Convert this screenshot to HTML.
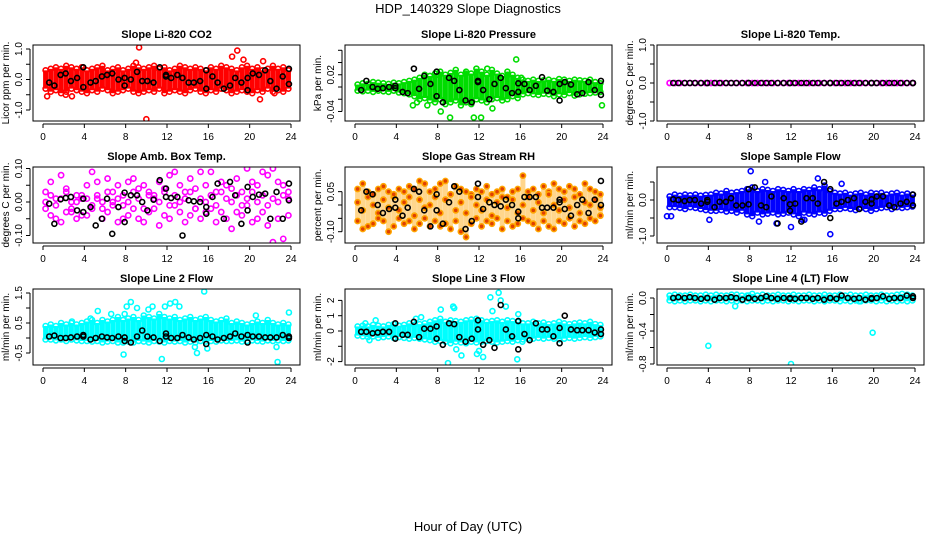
<!DOCTYPE html>
<html><head><meta charset="utf-8"><style>
html,body{margin:0;padding:0;background:#fff;}
svg{display:block;font-family:"Liberation Sans",sans-serif;}
</style></head><body>
<svg id="fig" width="936" height="540" viewBox="0 0 936 540" xmlns="http://www.w3.org/2000/svg">
<text x="468" y="13" text-anchor="middle" font-size="13">HDP_140329  Slope Diagnostics</text>
<text x="468" y="531" text-anchor="middle" font-size="13">Hour of Day (UTC)</text>
</svg>
<script>
const slotHours=[0.25,0.75,1.25,1.75,2.25,2.75,3.25,3.75,4.25,4.75,5.25,5.75,6.25,6.75,7.25,7.75,8.25,8.75,9.25,9.75,10.25,10.75,11.25,11.75,12.25,12.75,13.25,13.75,14.25,14.75,15.25,15.75,16.25,16.75,17.25,17.75,18.25,18.75,19.25,19.75,20.25,20.75,21.25,21.75,22.25,22.75,23.25,23.75];
const blackHours=[0.6,1.1,1.7,2.2,2.7,3.3,3.9,3.9,4.6,5.1,5.7,6.2,6.7,7.3,7.9,7.9,8.5,9.1,9.6,10.1,10.7,11.3,11.9,11.9,12.4,13,13.5,14.1,14.6,15.2,15.8,15.8,16.4,16.9,17.5,18.1,18.6,19.2,19.8,19.8,20.3,20.9,21.5,22,22.6,23.2,23.8,23.8];
const xTicks=[0,4,8,12,16,20,24];

const co2Hi=[0.3,0.35,0.4,0.35,0.45,0.4,0.35,0.4,0.3,0.35,0.4,0.45,0.3,0.35,0.4,0.3,0.35,0.45,0.4,0.35,0.4,0.45,0.35,0.4,0.3,0.35,0.45,0.4,0.35,0.4,0.35,0.3,0.4,0.35,0.45,0.4,0.35,0.3,0.4,0.45,0.35,0.4,0.3,0.35,0.45,0.35,0.4,0.3];
const co2Lo=[-0.3,-0.4,-0.35,-0.45,-0.4,-0.3,-0.35,-0.4,-0.45,-0.35,-0.4,-0.3,-0.35,-0.45,-0.4,-0.35,-0.3,-0.4,-0.45,-0.4,-0.35,-0.4,-0.3,-0.45,-0.4,-0.35,-0.4,-0.45,-0.35,-0.3,-0.4,-0.45,-0.35,-0.4,-0.3,-0.35,-0.45,-0.4,-0.35,-0.4,-0.45,-0.35,-0.4,-0.3,-0.4,-0.35,-0.4,-0.3];
const co2OutX=[9.3,10,18.8,18.3,19.4,21.3,0.4,2.8,21,9,2.2,22.4];
const co2OutY=[1.05,-1.3,0.95,0.75,0.65,0.6,-0.55,-0.55,-0.65,0.55,-0.5,-0.45];
const co2Black=[-0.1,-0.2,0.15,0.2,-0.05,0.05,0.4,-0.25,-0.1,-0.05,0.1,0.15,0.2,0.0,-0.2,0.05,0.0,0.25,-0.05,-0.05,-0.1,0.4,0.15,0.1,0.05,0.15,0.05,-0.1,-0.1,-0.05,0.3,-0.3,0.1,-0.1,-0.3,-0.2,0.05,-0.1,0.05,-0.35,0.2,0.15,0.3,-0.05,-0.3,0.1,0.35,-0.15];

const presHi=[0.004,0.006,0.005,0.008,0.007,0.006,0.005,0.007,0.006,0.008,0.01,0.012,0.015,0.02,0.018,0.022,0.025,0.02,0.023,0.028,0.02,0.025,0.022,0.03,0.025,0.02,0.028,0.022,0.018,0.025,0.02,0.015,0.012,0.01,0.012,0.01,0.011,0.012,0.01,0.013,0.012,0.01,0.012,0.011,0.01,0.012,0.008,0.006];
const presLo=[-0.006,-0.007,-0.006,-0.008,-0.006,-0.007,-0.008,-0.006,-0.009,-0.01,-0.012,-0.015,-0.02,-0.018,-0.022,-0.025,-0.02,-0.028,-0.025,-0.022,-0.03,-0.025,-0.028,-0.02,-0.022,-0.025,-0.02,-0.018,-0.022,-0.02,-0.015,-0.018,-0.012,-0.01,-0.012,-0.013,-0.011,-0.012,-0.015,-0.012,-0.013,-0.01,-0.014,-0.012,-0.011,-0.01,-0.009,-0.008];
const presOutX=[5.6,8.1,8.3,9.2,11.5,12.2,12.8,14.8,15.6,6,7,16.1,23.9,10.7,13.3];
const presOutY=[-0.03,0.02,-0.04,-0.05,-0.05,-0.05,0.03,0.02,0.045,-0.025,-0.03,0.015,-0.03,0.022,-0.035];
const presBlack=[-0.005,0.01,0.0,-0.003,-0.002,0.0,-0.002,0.002,-0.008,-0.01,0.03,-0.003,0.018,0.005,-0.015,0.025,-0.025,0.015,0.01,-0.005,-0.022,-0.025,0.01,0.008,-0.005,-0.02,0.005,0.015,-0.002,-0.01,-0.008,0.006,0.005,-0.005,0.002,0.016,-0.006,-0.008,-0.022,0.005,0.008,0.004,-0.012,-0.01,0.008,-0.005,0.01,-0.013];

const tempVals=[0,0,0,0,0,0,0,0,0,0,0,0,0,0,0,0,0,0,0,0,0,0,0,0,0,0,0,0,0,0,0,0,0,0,0,0,0,0,0,0,0,0,0,0,0,0,0,0];
const tempBlack=[0,0,0,0,0,0,0,0,0,0,0,0,0,0,0,0,0,0,0,0,0,0,0,0,0,0,0,0,0,0,0,0,0,0,0,0,0,0,0,0,0,0,0,0,0,0,0,0];

const boxA=[0.03,0.06,-0.05,0.08,0.04,-0.03,0.02,-0.04,0.05,0.09,0.06,-0.02,0.07,0.03,0.05,-0.05,0.06,0.07,0.04,0.05,0.03,0.02,0.06,0.04,0.08,0.09,0.05,0.03,0.07,0.04,0.09,0.05,0.09,0.03,0.06,0.05,0.04,0.07,0.03,0.1,0.06,0.05,0.09,0.08,0.1,0.06,0.05,0.03];
const boxB=[-0.02,-0.04,0.01,-0.06,-0.03,0.0,-0.05,0.01,-0.04,-0.02,0.01,-0.05,-0.03,0.0,-0.06,-0.01,-0.04,-0.02,-0.05,-0.06,-0.03,-0.02,-0.07,-0.04,-0.05,-0.01,-0.03,-0.06,-0.04,-0.02,-0.05,-0.03,-0.02,-0.06,-0.03,-0.05,-0.08,-0.03,-0.04,-0.01,-0.06,-0.05,-0.03,-0.07,-0.12,-0.05,-0.11,-0.04];
const boxC=[0.0,0.02,-0.01,0.01,0.03,-0.02,0.0,0.02,0.01,-0.01,0.02,0.0,0.03,-0.01,0.01,0.02,0.0,0.03,0.01,-0.02,0.02,0.01,0.0,0.03,-0.01,0.02,0.0,0.01,0.03,-0.02,0.01,0.0,0.02,-0.01,0.03,0.01,0.0,0.02,-0.01,0.01,0.03,0.0,0.02,-0.01,0.01,0.0,0.02,0.01];
const boxBlack=[-0.005,-0.065,0.008,0.012,0.015,-0.025,0.01,-0.03,-0.015,-0.07,-0.05,0.01,-0.095,-0.015,-0.06,0.028,0.02,0.02,0.0,-0.025,0.007,0.065,0.04,0.015,0.012,0.015,-0.1,0.005,0.002,0.0,-0.015,-0.035,0.015,0.055,-0.05,0.06,0.02,-0.065,0.045,-0.025,0.015,0.022,0.025,-0.05,0.03,-0.05,0.055,0.005];

const rhA=[0.06,0.08,0.05,0.04,0.06,0.07,0.05,0.03,0.06,0.05,0.07,0.06,0.09,0.08,0.05,0.06,0.08,0.09,0.04,0.07,0.06,0.05,0.04,0.06,0.05,0.07,0.04,0.05,0.06,0.03,0.05,0.06,0.11,0.05,0.06,0.04,0.07,0.05,0.08,0.06,0.05,0.07,0.06,0.04,0.08,0.06,0.05,0.04];
const rhB=[-0.06,-0.09,-0.08,-0.07,-0.05,-0.06,-0.1,-0.08,-0.05,-0.07,-0.06,-0.09,-0.07,-0.05,-0.08,-0.06,-0.08,-0.07,-0.09,-0.06,-0.1,-0.12,-0.07,-0.05,-0.08,-0.06,-0.07,-0.05,-0.09,-0.06,-0.08,-0.07,-0.05,-0.06,-0.07,-0.09,-0.06,-0.08,-0.09,-0.06,-0.07,-0.05,-0.08,-0.06,-0.07,-0.05,-0.06,-0.04];
const rhC=[0.01,-0.02,0.03,0.0,-0.03,0.02,-0.01,0.04,-0.02,0.01,0.03,-0.04,0.02,-0.01,0.0,0.03,-0.03,0.02,0.04,-0.02,0.01,-0.03,0.03,0.0,-0.02,0.02,-0.04,0.01,0.03,-0.01,0.02,-0.03,0.0,0.03,-0.02,0.01,-0.03,0.04,0.0,-0.02,0.02,-0.01,0.03,-0.03,0.01,0.0,0.02,-0.01];
const rhBlack=[-0.02,0.05,0.04,0.0,-0.03,-0.015,-0.01,0.02,-0.04,-0.01,0.06,0.05,-0.02,-0.08,0.04,-0.02,-0.07,0.01,0.07,0.05,-0.09,-0.06,0.08,0.03,-0.015,0.01,0.0,-0.005,0.02,0.0,-0.05,-0.025,0.03,0.03,0.03,-0.01,-0.01,-0.01,0.02,0.01,-0.015,-0.04,0.0,0.02,-0.03,0.02,0.09,0.0];

const flowHi=[0.1,0.15,0.12,0.15,0.13,0.15,0.12,0.14,0.15,0.2,0.18,0.25,0.2,0.22,0.25,0.3,0.35,0.25,0.3,0.28,0.25,0.3,0.28,0.25,0.3,0.25,0.3,0.28,0.35,0.3,0.4,0.25,0.2,0.18,0.2,0.15,0.18,0.2,0.15,0.2,0.18,0.2,0.15,0.18,0.2,0.15,0.18,0.15];
const flowLo=[-0.2,-0.2,-0.22,-0.25,-0.2,-0.22,-0.25,-0.28,-0.3,-0.3,-0.28,-0.32,-0.3,-0.35,-0.3,-0.4,-0.45,-0.35,-0.4,-0.38,-0.35,-0.4,-0.38,-0.35,-0.4,-0.45,-0.35,-0.38,-0.4,-0.35,-0.38,-0.3,-0.25,-0.25,-0.22,-0.25,-0.28,-0.22,-0.25,-0.3,-0.25,-0.22,-0.2,-0.25,-0.2,-0.22,-0.2,-0.18];
const flowOutX=[0,0.4,4.1,8.1,8.9,10.6,12,13.1,13.3,14.6,15.8,16.9,9.5];
const flowOutY=[-0.45,-0.45,-0.55,0.8,-0.6,-0.65,-0.75,-0.55,-0.55,0.6,-0.95,0.45,0.5];
const flowBlack=[0.02,0.0,-0.03,0.0,0.0,-0.1,-0.05,0.0,-0.2,-0.05,-0.05,0.05,-0.15,-0.15,-0.12,0.3,0.35,-0.15,-0.2,0.1,-0.65,0.05,-0.3,-0.12,-0.1,-0.6,0.05,0.05,-0.1,0.5,0.3,-0.5,-0.1,-0.05,0.0,0.05,-0.25,-0.05,-0.1,0.02,0.1,0.1,-0.15,-0.2,-0.1,-0.05,0.15,-0.15];

const l2Hi=[0.4,0.45,0.4,0.5,0.45,0.5,0.45,0.5,0.55,0.6,0.5,0.6,0.55,0.6,0.7,0.6,0.65,0.7,0.6,0.75,0.7,0.65,0.8,0.7,0.65,0.7,0.6,0.65,0.7,0.6,0.65,0.7,0.6,0.55,0.6,0.65,0.5,0.55,0.5,0.45,0.5,0.55,0.5,0.6,0.5,0.45,0.5,0.45];
const l2Lo=[-0.05,-0.05,-0.08,-0.05,-0.1,-0.05,-0.08,-0.1,-0.1,-0.12,-0.1,-0.15,-0.12,-0.1,-0.15,-0.15,-0.12,-0.15,-0.1,-0.12,-0.15,-0.1,-0.12,-0.15,-0.1,-0.12,-0.1,-0.15,-0.12,-0.15,-0.1,-0.12,-0.1,-0.12,-0.08,-0.1,-0.1,-0.08,-0.12,-0.1,-0.08,-0.1,-0.12,-0.08,-0.1,-0.08,-0.1,-0.08];
const l2OutX=[5.3,6.6,7.9,8.1,8.5,9.1,10.2,10.6,11.8,12.3,12.8,13.2,15.6,15.9,11.5,14.7,14.9,20.6,22.6,22.7,23.8,4.6,7.8,2.8];
const l2OutY=[0.9,0.8,0.8,1.05,1.2,1.0,0.95,1.05,1.05,1.15,1.2,1.05,1.55,-0.35,-0.7,-0.3,-0.5,0.75,-0.3,-0.8,0.85,0.65,-0.55,0.55];
const l2Black=[0.05,0.08,0.0,0.0,0.02,0.05,0.1,0.05,-0.05,0.0,0.05,0.02,0.0,0.05,-0.1,0.02,-0.15,0.05,0.25,0.05,0.02,-0.1,0.15,0.05,0.0,0.0,0.1,0.02,-0.05,0.0,0.1,-0.2,0.05,-0.05,0.0,0.05,0.15,0.05,0.1,-0.15,0.05,0.05,0.02,0.02,0.02,0.1,0.05,0.0];

const l3Hi=[0.3,0.35,0.3,0.4,0.35,0.3,0.4,0.45,0.35,0.4,0.5,0.4,0.45,0.5,0.6,0.7,0.8,0.6,0.7,0.65,0.6,0.7,0.75,0.8,0.7,0.6,0.65,0.7,0.6,0.7,0.65,0.6,0.5,0.5,0.6,0.5,0.55,0.45,0.5,0.6,0.5,0.45,0.5,0.55,0.5,0.6,0.45,0.4];
const l3Lo=[-0.3,-0.35,-0.4,-0.35,-0.45,-0.4,-0.35,-0.45,-0.4,-0.45,-0.5,-0.45,-0.5,-0.55,-0.6,-0.7,-0.65,-0.7,-0.8,-0.7,-0.75,-0.8,-0.7,-0.75,-0.7,-0.65,-0.7,-0.75,-0.7,-0.65,-0.7,-0.6,-0.55,-0.5,-0.5,-0.45,-0.5,-0.45,-0.5,-0.55,-0.5,-0.45,-0.5,-0.45,-0.4,-0.45,-0.4,-0.35];
const l3OutX=[9,8.3,9.5,9.6,13.1,13.9,14.1,14.6,15.7,12,11.8,12.4,13.3,10.3,9.8,1,1.4,2,5.9,6.4,16.2,15.8];
const l3OutY=[-2.1,1.4,1.6,1.5,2.2,2.5,2.0,1.6,-1.85,-1.3,-1.5,-1.7,1.3,-1.6,-1.2,0.5,-0.6,0.7,0.8,0.9,-0.7,1.1];
const l3Black=[-0.05,-0.05,-0.15,-0.1,-0.05,-0.05,0.5,-0.5,-0.25,-0.25,0.6,-0.4,0.15,0.15,-0.5,0.3,-0.9,0.5,0.45,-0.4,-0.7,-0.5,0.7,0.1,-0.9,-0.6,-1.1,1.7,0.1,-0.35,0.65,-1.2,-0.2,-0.6,0.5,0.1,0.1,-0.35,0.2,-0.8,1.0,0.1,0.05,0.05,0.05,-0.1,0.1,-0.2];

const l4Hi=[0.03,0.04,0.03,0.03,0.04,0.03,0.03,0.04,0.03,0.04,0.03,0.03,0.04,0.04,0.03,0.03,0.05,0.03,0.04,0.03,0.03,0.04,0.03,0.03,0.04,0.03,0.03,0.04,0.03,0.03,0.04,0.03,0.03,0.04,0.03,0.04,0.03,0.03,0.04,0.03,0.03,0.04,0.03,0.03,0.04,0.05,0.04,0.03];
const l4Lo=[-0.03,-0.04,-0.03,-0.04,-0.03,-0.03,-0.04,-0.03,-0.04,-0.03,-0.03,-0.04,-0.03,-0.04,-0.03,-0.04,-0.03,-0.03,-0.04,-0.03,-0.04,-0.03,-0.03,-0.04,-0.03,-0.04,-0.03,-0.03,-0.04,-0.03,-0.04,-0.03,-0.03,-0.04,-0.03,-0.04,-0.03,-0.04,-0.03,-0.03,-0.04,-0.03,-0.04,-0.03,-0.04,-0.03,-0.04,-0.03];
const l4OutX=[4,12,19.9,7.9,18.6,6.6];
const l4OutY=[-0.58,-0.8,-0.42,0.03,-0.04,-0.1];
const l4Black=[0.0,0.01,0.0,0.01,0.0,-0.01,0.0,0.0,-0.02,0.0,0.0,0.01,0.0,-0.02,0.0,0.0,-0.01,0.0,0.02,0.0,-0.01,0.0,0.0,-0.01,-0.01,0.0,0.0,-0.01,0.0,-0.02,0.0,0.0,-0.01,0.03,0.0,-0.01,0.0,-0.02,-0.01,0.0,0.0,0.02,-0.01,0.0,0.0,0.03,0.02,0.0];

const NS="http://www.w3.org/2000/svg";
const svg=document.getElementById('fig');
const colX0=[33,345,657], colX1=[300,612,924];
const rowY0=[45,167,289], rowY1=[121,243,365];

const panels=[
 {name:'co2',title:'Slope Li-820 CO2',ylab:'Licor ppm per min.',c:0,r:0,zero:79.5,s:30.5,ticks:[1,0.5,0,-0.5,-1],labels:['1.0','','0.0','','-1.0'],color:'#ff0000',hi:co2Hi,lo:co2Lo,ox:co2OutX,oy:co2OutY,blk:co2Black},
 {name:'pressure',title:'Slope Li-820 Pressure',ylab:'kPa per min.',c:1,r:0,zero:87,s:612,ticks:[0.06,0.04,0.02,0,-0.02,-0.04],labels:['','','0.02','','','-0.04'],color:'#00dd00',hi:presHi,lo:presLo,ox:presOutX,oy:presOutY,blk:presBlack},
 {name:'li820-temp',title:'Slope Li-820 Temp.',ylab:'degrees C per min.',c:2,r:0,zero:83,s:38,ticks:[1,0.5,0,-0.5,-1],labels:['1.0','','0.0','','-1.0'],color:'#ff00ff',hi:tempVals,lo:tempVals,ox:[],oy:[],blk:tempBlack},
 {name:'amb-box-temp',title:'Slope Amb. Box Temp.',ylab:'degrees C per min.',c:0,r:1,zero:202,s:335,ticks:[0.1,0.05,0,-0.05,-0.1],labels:['0.10','','0.00','','-0.10'],color:'#ff00ff',sc:[boxA,boxB,boxC],blk:boxBlack},
 {name:'gas-stream-rh',title:'Slope Gas Stream RH',ylab:'percent per min.',c:1,r:1,zero:205,s:267,ticks:[0.05,0,-0.05,-0.1],labels:['0.05','','','-0.10'],color:'#ffa500',hi:rhA,lo:rhB,ox:[],oy:[],bandOpacity:0.45,sc:[rhA,rhB,rhC],blk:rhBlack},
 {name:'sample-flow',title:'Slope Sample Flow',ylab:'ml/min per min.',c:2,r:1,zero:200,s:36,ticks:[0.5,0,-0.5,-1],labels:['','0.0','','-1.0'],color:'#0000ff',hi:flowHi,lo:flowLo,ox:flowOutX,oy:flowOutY,blk:flowBlack},
 {name:'line2-flow',title:'Slope Line 2 Flow',ylab:'ml/min per min.',c:0,r:2,zero:338,s:30,ticks:[1.5,1,0.5,0,-0.5],labels:['1.5','','0.5','','-0.5'],color:'#00ffff',hi:l2Hi,lo:l2Lo,ox:l2OutX,oy:l2OutY,blk:l2Black},
 {name:'line3-flow',title:'Slope Line 3 Flow',ylab:'ml/min per min.',c:1,r:2,zero:331,s:15.3,ticks:[2,1,0,-1,-2],labels:['2','1','0','','-2'],color:'#00ffff',hi:l3Hi,lo:l3Lo,ox:l3OutX,oy:l3OutY,blk:l3Black},
 {name:'line4-flow',title:'Slope Line 4 (LT) Flow',ylab:'ml/min per min.',c:2,r:2,zero:298,s:82.5,ticks:[0,-0.2,-0.4,-0.6,-0.8],labels:['0.0','','-0.4','','-0.8'],color:'#00ffff',hi:l4Hi,lo:l4Lo,ox:l4OutX,oy:l4OutY,blk:l4Black}
];

function mk(tag,attrs,parent){const e=document.createElementNS(NS,tag);for(const k in attrs)e.setAttribute(k,attrs[k]);parent.appendChild(e);return e;}

panels.forEach((p,pi)=>{
 const x0=colX0[p.c],x1=colX1[p.c],y0=rowY0[p.r],y1=rowY1[p.r];
 const xs=h=>x0+10+(h/24)*(x1-x0-19);
 const ys=v=>p.zero-v*p.s;
 const g=mk('g',{},svg);
 
 
 const cid='clip'+pi;
 const cp=mk('clipPath',{id:cid},g);mk('rect',{x:x0,y:y0,width:x1-x0,height:y1-y0},cp);
 const t=mk('text',{x:(x0+x1)/2,y:y0-7,'text-anchor':'middle','font-size':'11','font-weight':'bold'},g);
 t.textContent=p.title;
 
 
 const pts=mk('g',{'clip-path':'url(#'+cid+')'},g);
 
 
 if(p.hi){
  slotHours.forEach((h,i)=>{
   const ln=mk('line',{x1:xs(h),x2:xs(h),y1:ys(p.hi[i]),y2:ys(p.lo[i]),stroke:p.color,'stroke-width':5,'stroke-opacity':p.bandOpacity||1},pts);
   
   
   if(!p.sc){[p.hi[i],p.lo[i]].forEach(v=>{const c=mk('circle',{cx:xs(h),cy:ys(v),r:2.5,fill:'none',stroke:p.color,'stroke-width':1.6},pts);
    
    });}
  });
  p.ox.forEach((h,i)=>{const c=mk('circle',{cx:xs(h),cy:ys(p.oy[i]),r:2.5,fill:'none',stroke:p.color,'stroke-width':1.6},pts);
   
   });
 }
 if(p.sc){
  p.sc.forEach(arr=>slotHours.forEach((h,i)=>{
   const c=mk('circle',{cx:xs(h),cy:ys(arr[i]),r:2.6,fill:p.name==='gas-stream-rh'?'#e04000':'none',stroke:p.color,'stroke-width':1.6},pts);
   
   
  }));
 }
 blackHours.forEach((h,i)=>{
  const c=mk('circle',{cx:xs(h),cy:ys(p.blk[i]),r:2.5,fill:'none',stroke:'#000','stroke-width':1.6},pts);
  
  
 });
 const box=mk('rect',{x:x0,y:y0,width:x1-x0,height:y1-y0,fill:'none',stroke:'#000','stroke-width':1},g);
 
 
 const xa=mk('g',{},g);
 
 
 mk('line',{x1:xs(0),x2:xs(24),y1:y1+3,y2:y1+3,stroke:'#000'},xa);
 xTicks.forEach(v=>{mk('line',{x1:xs(v),x2:xs(v),y1:y1+3,y2:y1+7,stroke:'#000'},xa);
  const tl=mk('text',{x:xs(v),y:y1+19,'text-anchor':'middle','font-size':'10'},xa);tl.textContent=v;});
 const ya=mk('g',{},g);
 
 
 const yt=p.ticks.map(ys);
 mk('line',{x1:x0-3,x2:x0-3,y1:Math.min(...yt),y2:Math.max(...yt),stroke:'#000'},ya);
 p.ticks.forEach((v,i)=>{const y=ys(v);mk('line',{x1:x0-7,x2:x0-3,y1:y,y2:y,stroke:'#000'},ya);
  if(p.labels[i]){const tl=mk('text',{x:0,y:0,'text-anchor':'middle','font-size':'10',transform:'translate('+(x0-11)+','+y+') rotate(-90)'},ya);tl.textContent=p.labels[i];}});
 const yl=mk('text',{x:0,y:0,'text-anchor':'middle','font-size':'10',transform:'translate('+(x0-24)+','+((y0+y1)/2)+') rotate(-90)'},g);
 yl.textContent=p.ylab;
 
 
});
</script>
</body></html>
